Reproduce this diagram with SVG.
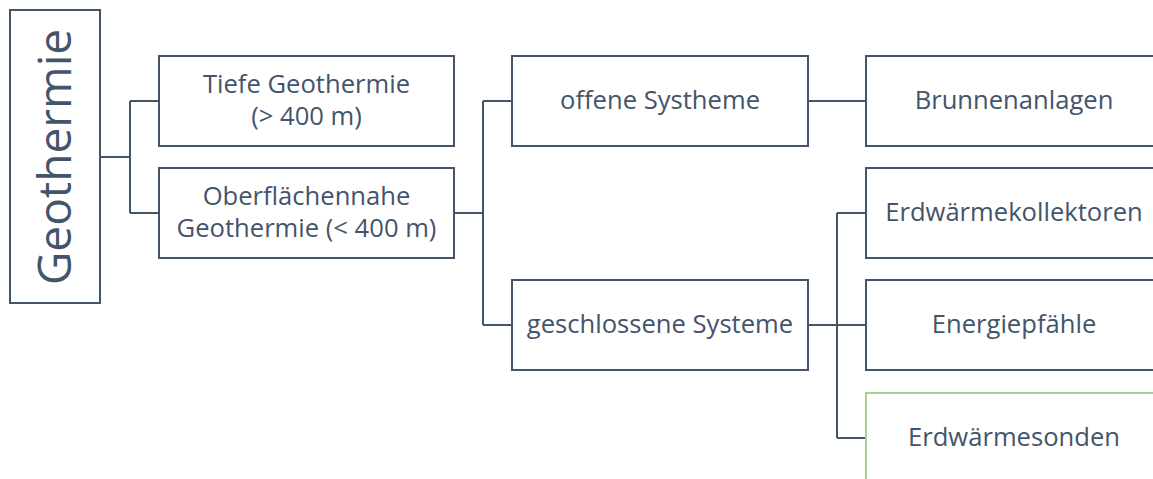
<svg xmlns="http://www.w3.org/2000/svg" width="1153" height="479" viewBox="0 0 1153 479">
  <style>
    .box { fill: #ffffff; stroke: #44546a; stroke-width: 2; }
    .box.green { stroke: #a9d18e; }
    .lbl { font-family: "Open Sans", "Noto Sans", sans-serif; font-size: 25.6px; fill: #44546a; text-anchor: middle; }
    .root { font-size: 46px; }
    .conn { fill: none; stroke: #44546a; stroke-width: 2; }
  </style>
  <rect width="1153" height="479" fill="#ffffff"/>

  <!-- connectors -->
  <g id="connectors">
    <path class="conn" d="M100 157 H130 M130 101 V213 M130 101 H159 M130 213 H159"/>
    <path class="conn" d="M454 213 H483 M483 101 V325 M483 101 H512 M483 325 H512"/>
    <path class="conn" d="M808 101 H866"/>
    <path class="conn" d="M808 325 H837 M837 213 V438 M837 213 H866 M837 325 H866 M837 438 H866"/>
  </g>

  <g id="n-geothermie">
    <rect class="box" x="10" y="10" width="90" height="293"/>
    <text class="lbl root" transform="translate(71 157) rotate(-90)">Geothermie</text>
  </g>

  <g id="n-tiefe">
    <rect class="box" x="159" y="56" width="295" height="90"/>
    <text class="lbl" x="306.5" y="93">Tiefe Geothermie</text>
    <text class="lbl" x="306.5" y="125">(&gt; 400 m)</text>
  </g>

  <g id="n-oberflaechennah">
    <rect class="box" x="159" y="168" width="295" height="90"/>
    <text class="lbl" x="306.5" y="205">Oberflächennahe</text>
    <text class="lbl" x="306.5" y="237">Geothermie (&lt; 400 m)</text>
  </g>

  <g id="n-offen">
    <rect class="box" x="512" y="56" width="296" height="90"/>
    <text class="lbl" x="660" y="109">offene Systheme</text>
  </g>

  <g id="n-geschlossen">
    <rect class="box" x="512" y="280" width="296" height="90"/>
    <text class="lbl" x="660" y="333">geschlossene Systeme</text>
  </g>

  <g id="n-brunnen">
    <rect class="box" x="866" y="56" width="296" height="90"/>
    <text class="lbl" x="1014" y="109">Brunnenanlagen</text>
  </g>

  <g id="n-kollektoren">
    <rect class="box" x="866" y="168" width="296" height="90"/>
    <text class="lbl" x="1014" y="221">Erdwärmekollektoren</text>
  </g>

  <g id="n-energiepfaehle">
    <rect class="box" x="866" y="280" width="296" height="90"/>
    <text class="lbl" x="1014" y="333">Energiepfähle</text>
  </g>

  <g id="n-sonden">
    <rect class="box green" x="866" y="393" width="296" height="90"/>
    <text class="lbl" x="1014" y="446">Erdwärmesonden</text>
  </g>
</svg>
